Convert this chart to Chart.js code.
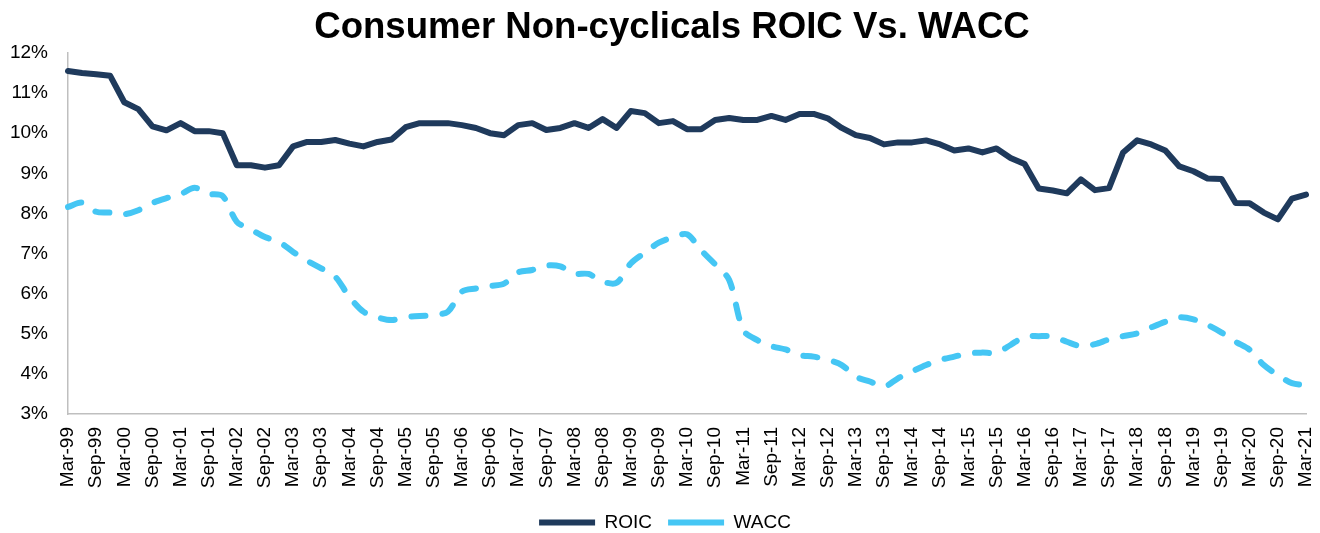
<!DOCTYPE html>
<html>
<head>
<meta charset="utf-8">
<title>Consumer Non-cyclicals ROIC Vs. WACC</title>
<script src="https://cdn.jsdelivr.net/npm/chart.js@4.4.1/dist/chart.umd.min.js"></script>
<style>
    html, body { margin: 0; padding: 0; background: #fff; }
    #chartRoic { display: block; }
</style>
</head>
<body>
<canvas id="chartRoic" width="1320" height="533"></canvas>
<script>
// quarterly categories, Mar-99 .. Mar-21
const quarters = [
    'Mar-99', 'Jun-99', 'Sep-99', 'Dec-99',
    'Mar-00', 'Jun-00', 'Sep-00', 'Dec-00',
    'Mar-01', 'Jun-01', 'Sep-01', 'Dec-01',
    'Mar-02', 'Jun-02', 'Sep-02', 'Dec-02',
    'Mar-03', 'Jun-03', 'Sep-03', 'Dec-03',
    'Mar-04', 'Jun-04', 'Sep-04', 'Dec-04',
    'Mar-05', 'Jun-05', 'Sep-05', 'Dec-05',
    'Mar-06', 'Jun-06', 'Sep-06', 'Dec-06',
    'Mar-07', 'Jun-07', 'Sep-07', 'Dec-07',
    'Mar-08', 'Jun-08', 'Sep-08', 'Dec-08',
    'Mar-09', 'Jun-09', 'Sep-09', 'Dec-09',
    'Mar-10', 'Jun-10', 'Sep-10', 'Dec-10',
    'Mar-11', 'Jun-11', 'Sep-11', 'Dec-11',
    'Mar-12', 'Jun-12', 'Sep-12', 'Dec-12',
    'Mar-13', 'Jun-13', 'Sep-13', 'Dec-13',
    'Mar-14', 'Jun-14', 'Sep-14', 'Dec-14',
    'Mar-15', 'Jun-15', 'Sep-15', 'Dec-15',
    'Mar-16', 'Jun-16', 'Sep-16', 'Dec-16',
    'Mar-17', 'Jun-17', 'Sep-17', 'Dec-17',
    'Mar-18', 'Jun-18', 'Sep-18', 'Dec-18',
    'Mar-19', 'Jun-19', 'Sep-19', 'Dec-19',
    'Mar-20', 'Jun-20', 'Sep-20', 'Dec-20',
    'Mar-21',
];

// ROIC, %
const roic = [
    11.55, 11.50, 11.47, 11.43, 10.77, 10.60, 10.17, 10.07, 10.25, 10.05,
    10.05, 10.00, 9.20, 9.20, 9.14, 9.20, 9.67, 9.78, 9.78, 9.83,
    9.74, 9.67, 9.78, 9.84, 10.15, 10.25, 10.25, 10.25, 10.20, 10.13,
    10.00, 9.95, 10.20, 10.25, 10.08, 10.13, 10.25, 10.13, 10.35, 10.13,
    10.55, 10.50, 10.25, 10.30, 10.10, 10.10, 10.33, 10.38, 10.33, 10.33,
    10.43, 10.33, 10.48, 10.48, 10.37, 10.13, 9.95, 9.88, 9.72, 9.77,
    9.77, 9.82, 9.72, 9.57, 9.62, 9.52, 9.62, 9.38, 9.23, 8.62,
    8.57, 8.50, 8.85, 8.58, 8.63, 9.52, 9.82, 9.72, 9.57, 9.17,
    9.05, 8.87, 8.86, 8.26, 8.25, 8.02, 7.85, 8.37, 8.47,
];

// WACC, %
const wacc = [
    8.16, 8.27, 8.04, 8.02, 7.98, 8.08, 8.26, 8.38, 8.48, 8.64,
    8.49, 8.43, 7.79, 7.60, 7.41, 7.29, 7.04, 6.82, 6.63, 6.42,
    5.92, 5.55, 5.41, 5.34, 5.42, 5.44, 5.47, 5.55, 6.05, 6.13,
    6.19, 6.25, 6.53, 6.59, 6.70, 6.68, 6.50, 6.49, 6.30, 6.27,
    6.75, 7.02, 7.27, 7.40, 7.48, 7.08, 6.73, 6.34, 5.09, 4.84,
    4.69, 4.61, 4.47, 4.43, 4.35, 4.22, 3.93, 3.81, 3.68, 3.89,
    4.06, 4.22, 4.35, 4.43, 4.51, 4.53, 4.53, 4.72, 4.93, 4.94,
    4.93, 4.80, 4.69, 4.74, 4.86, 4.94, 5.01, 5.16, 5.30, 5.41,
    5.36, 5.22, 5.03, 4.80, 4.60, 4.22, 3.97, 3.77, 3.72,
];

const yMin = 3;
const yMax = 12;

const fontFamily = '"Liberation Sans", Arial, Helvetica, sans-serif';
const axisGrey = '#bfbfbf';

// title and legend sit a little off the canvas centre in the original
const blockShift = {
    id: 'blockShift',
    afterLayout(chart) {
        if (chart.titleBlock) {
            chart.titleBlock.left = 38;
            chart.titleBlock.right = 1306;
        }
        if (chart.legend) {
            chart.legend.left = 24;
            chart.legend.right = 1306;
        }
    },
};

const ctx = document.getElementById('chartRoic');

new Chart(ctx, {
    type: 'line',
    plugins: [blockShift],
    data: {
        labels: quarters,
        datasets: [
            {
                label: 'ROIC',
                data: roic,
                borderColor: '#1f3a5c',
                backgroundColor: '#1f3a5c',
                borderWidth: 6,
                borderCapStyle: 'round',
                borderJoinStyle: 'round',
                pointRadius: 0,
                pointStyle: 'line',
                tension: 0,
            },
            {
                label: 'WACC',
                data: wacc,
                borderColor: '#45c6f4',
                backgroundColor: '#45c6f4',
                borderWidth: 6,
                borderDash: [14, 17],
                borderCapStyle: 'round',
                borderJoinStyle: 'round',
                pointRadius: 0,
                pointStyle: 'line',
                tension: 0.3,
            },
        ],
    },
    options: {
        responsive: false,
        animation: false,
        layout: { padding: { left: 0, right: 14, top: 0, bottom: 0 } },
        plugins: {
            title: {
                display: true,
                text: 'Consumer Non-cyclicals ROIC Vs. WACC',
                color: '#000',
                font: { family: fontFamily, size: 36.6, weight: 'bold' },
                padding: { top: 6, bottom: 3 },
            },
            legend: {
                position: 'bottom',
                maxHeight: 36,
                labels: {
                    usePointStyle: true,
                    pointStyleWidth: 56,
                    padding: 16,
                    color: '#000',
                    font: { family: fontFamily, size: 19 },
                },
            },
            tooltip: { enabled: false },
        },
        scales: {
            x: {
                grid: { display: false, drawTicks: false },
                border: { display: true, color: axisGrey, width: 1.5 },
                ticks: {
                    autoSkip: false,
                    minRotation: 90,
                    maxRotation: 90,
                    padding: 13,
                    color: '#000',
                    font: { family: fontFamily, size: 19 },
                    callback: (value, index) => (index % 2 === 0 ? quarters[index] : ''),
                },
                afterFit: (scale) => {
                    scale.height = 83;
                    scale.paddingLeft = 0;
                    scale.paddingRight = 0;
                },
            },
            y: {
                min: yMin,
                max: yMax,
                grid: { display: false, drawTicks: false },
                border: { display: true, color: axisGrey, width: 1.5 },
                ticks: {
                    stepSize: 1,
                    padding: 20,
                    color: '#000',
                    font: { family: fontFamily, size: 19 },
                    callback: (value) => value + '%',
                },
                afterFit: (scale) => {
                    scale.width = 68;
                    scale.paddingTop = 0;
                    scale.paddingBottom = 0;
                },
            },
        },
    },
});
</script>
</body>
</html>
